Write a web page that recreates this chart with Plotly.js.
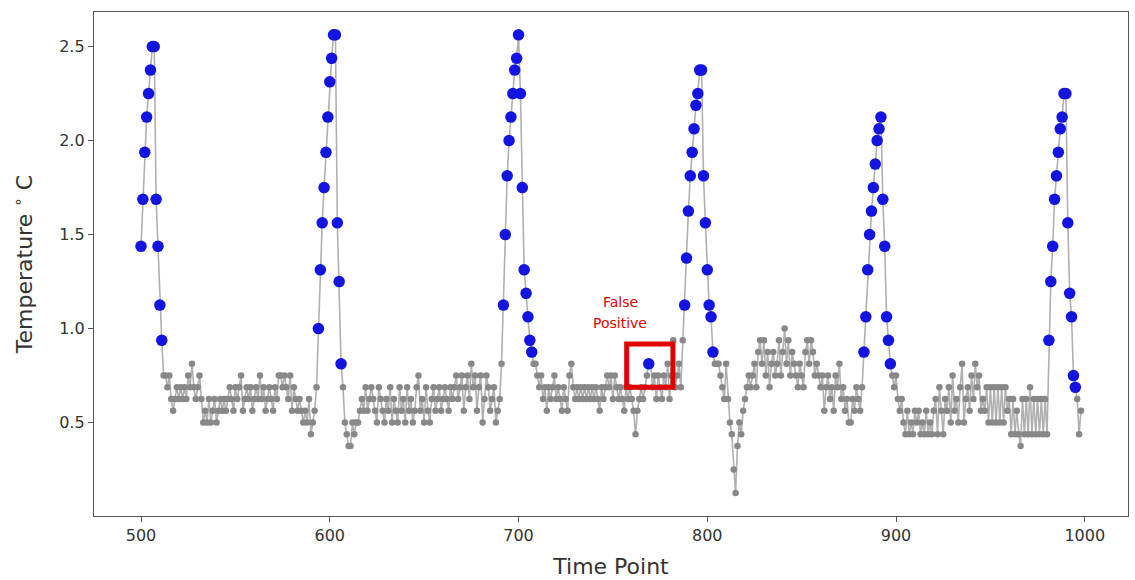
<!DOCTYPE html>
<html>
<head>
<meta charset="utf-8">
<script src="https://cdn.plot.ly/plotly-3.0.1.min.js"></script>
<style>html,body{margin:0;padding:0;background:#fff;}#chart{width:1135px;height:580px;}</style>
</head>
<body>
<div id="chart"></div>
<script>
// Temperature readings (°C), each segment starts at the given time point
const seg500 = [1.4375, 1.6875, 1.9375, 2.125, 2.25, 2.375, 2.5, 2.5, 1.6875, 1.4375, 1.125, 0.9375, 0.75];
const seg513 = [0.75, 0.6875, 0.75, 0.625, 0.5625, 0.625, 0.6875, 0.625, 0.6875, 0.625, 0.6875, 0.625,
  0.75, 0.6875, 0.8125, 0.6875, 0.625, 0.6875, 0.75, 0.625,
  0.5, 0.5625, 0.5, 0.625, 0.5, 0.5625, 0.625, 0.5, 0.5625, 0.625, 0.5625, 0.625, 0.5625,
  0.625, 0.6875, 0.625, 0.5625, 0.6875, 0.625, 0.6875,
  0.75, 0.5625, 0.625, 0.6875, 0.625, 0.6875, 0.5625, 0.625, 0.6875, 0.625, 0.75, 0.625, 0.6875, 0.5625, 0.625, 0.6875, 0.625, 0.5625, 0.6875, 0.625,
  0.75, 0.75, 0.6875, 0.75, 0.6875, 0.625, 0.75,
  0.5625, 0.6875, 0.625, 0.5625, 0.625, 0.5625, 0.5, 0.5625, 0.5, 0.625, 0.4375, 0.5, 0.5625, 0.6875];
const seg594 = [1.0, 1.3125, 1.5625, 1.75, 1.9375, 2.125, 2.3125, 2.4375, 2.5625, 2.5625, 1.5625, 1.25, 0.8125,
  0.6875, 0.5, 0.4375, 0.375, 0.375, 0.5, 0.4375, 0.5, 0.5];
const seg616 = [0.5625, 0.625, 0.5625, 0.6875, 0.5625, 0.625, 0.6875, 0.625, 0.5625, 0.5,
  0.6875, 0.625, 0.5625, 0.5, 0.625, 0.5625, 0.6875, 0.5, 0.625, 0.5625,
  0.5, 0.6875, 0.5625, 0.625, 0.5, 0.6875, 0.5625, 0.625, 0.5, 0.5625,
  0.6875, 0.75, 0.5625, 0.625, 0.5, 0.6875, 0.5625, 0.5, 0.625, 0.6875,
  0.5625, 0.625, 0.6875, 0.5625, 0.625, 0.6875, 0.625, 0.5625, 0.6875, 0.625,
  0.6875, 0.75, 0.625, 0.6875, 0.75, 0.5625, 0.6875, 0.75, 0.625, 0.8125,
  0.6875, 0.75, 0.5625, 0.6875, 0.75, 0.5, 0.625, 0.75, 0.6875, 0.5625,
  0.625, 0.6875, 0.5, 0.5625, 0.625, 0.8125];
const seg692 = [1.125, 1.5, 1.8125, 2.0, 2.125, 2.25, 2.375, 2.4375, 2.5625, 2.25, 1.75, 1.3125, 1.1875, 1.0625, 0.9375, 0.875];
const seg708 = [0.8125, 0.8125, 0.75, 0.6875, 0.75, 0.625, 0.6875, 0.5625, 0.6875, 0.625,
  0.6875, 0.75, 0.625, 0.6875, 0.625, 0.5625, 0.6875, 0.625, 0.5625, 0.75,
  0.8125, 0.6875, 0.625, 0.6875, 0.625, 0.6875, 0.625, 0.6875, 0.625, 0.6875,
  0.625, 0.6875, 0.625, 0.6875, 0.625, 0.5625, 0.6875, 0.625, 0.6875, 0.75,
  0.6875, 0.75, 0.625, 0.75, 0.6875, 0.625, 0.6875, 0.625, 0.5625, 0.6875,
  0.625, 0.6875, 0.625, 0.5625, 0.4375, 0.5625, 0.625, 0.6875, 0.625, 0.6875,
  0.75, 0.8125, 0.8125, 0.6875, 0.75, 0.625, 0.75, 0.6875, 0.625, 0.75,
  0.6875, 0.8125, 0.625, 0.75, 0.9375, 0.6875, 0.75, 0.8125, 0.6875, 0.9375];
const seg788 = [1.125, 1.375, 1.625, 1.8125, 1.9375, 2.0625, 2.1875, 2.25, 2.375, 2.375, 1.8125, 1.5625, 1.3125, 1.125, 1.0625, 0.875,
  0.8125, 0.8125, 0.8125, 0.75, 0.6875, 0.625, 0.8125, 0.625, 0.5, 0.4375, 0.25, 0.125, 0.375, 0.5, 0.4375, 0.5625, 0.625, 0.6875];
const seg822 = [0.75, 0.6875, 0.75, 0.8125, 0.6875, 0.875, 0.9375, 0.8125, 0.9375, 0.75,
  0.875, 0.6875, 0.8125, 0.875, 0.75, 0.8125, 0.9375, 0.75, 0.875, 1.0,
  0.8125, 0.9375, 0.75, 0.875, 0.8125, 0.75, 0.6875, 0.8125, 0.75, 0.6875,
  0.875, 0.9375, 0.8125, 0.9375, 0.875, 0.75, 0.8125, 0.75, 0.6875, 0.75,
  0.5625, 0.6875, 0.75, 0.625, 0.6875, 0.5625, 0.75, 0.6875, 0.8125, 0.625,
  0.6875, 0.5625, 0.625, 0.5, 0.5, 0.625, 0.5625, 0.6875, 0.625, 0.5625, 0.6875];
const seg883 = [0.875, 1.0625, 1.3125, 1.5, 1.625, 1.75, 1.875, 2.0, 2.0625, 2.125, 1.6875, 1.4375, 1.0625, 0.9375, 0.8125];
const seg898 = [0.75, 0.6875, 0.75, 0.625, 0.5625, 0.625, 0.5, 0.4375, 0.5625, 0.4375,
  0.5, 0.4375, 0.5625, 0.5, 0.5625, 0.4375, 0.5, 0.4375, 0.5625, 0.4375,
  0.5, 0.4375, 0.5625, 0.625, 0.4375, 0.6875, 0.5625, 0.4375, 0.625, 0.5625,
  0.6875, 0.5, 0.75, 0.5625, 0.625, 0.5, 0.6875, 0.8125, 0.5, 0.625,
  0.6875, 0.5625, 0.75, 0.625, 0.8125, 0.6875, 0.75, 0.5625, 0.625, 0.5625,
  0.6875, 0.5, 0.6875, 0.5, 0.6875, 0.5, 0.6875, 0.5, 0.6875, 0.5,
  0.6875, 0.5625, 0.625, 0.4375, 0.625, 0.4375, 0.5625, 0.4375, 0.375, 0.625,
  0.4375, 0.625, 0.4375, 0.6875, 0.4375, 0.625, 0.4375, 0.625, 0.4375, 0.625,
  0.4375, 0.625, 0.4375];
const seg981 = [0.9375, 1.25, 1.4375, 1.6875, 1.8125, 1.9375, 2.0625, 2.125, 2.25, 2.25, 1.5625, 1.1875, 1.0625, 0.75, 0.6875,
  0.625, 0.4375, 0.5625];

const segments = [[500, seg500], [513, seg513], [594, seg594], [616, seg616], [692, seg692],
  [708, seg708], [788, seg788], [822, seg822], [883, seg883], [898, seg898], [981, seg981]];

// Time points classified as anomalies (blue)
const detectedSpans = [[500, 511], [594, 606], [692, 707], [769, 769], [788, 803], [883, 897], [981, 995]];

const xTicks = [500, 600, 700, 800, 900, 1000];
const yTicks = [0.5, 1.0, 1.5, 2.0, 2.5];

const times = [], temps = [];
segments.forEach(([start, vals]) => vals.forEach((v, i) => { times.push(start + i); temps.push(v); }));

const bx = [], by = [];
times.forEach((t, i) => {
  if (detectedSpans.some(([a, b]) => t >= a && t <= b)) { bx.push(t); by.push(temps[i]); }
});

const font = 'DejaVu Sans, Arial, sans-serif';
const traces = [
  { x: times, y: temps, type: 'scatter', mode: 'lines+markers',
    line: { color: '#b0b0b0', width: 1.6 },
    marker: { color: '#888888', size: 6.5 }, hoverinfo: 'x+y' },
  { x: bx, y: by, type: 'scatter', mode: 'markers',
    marker: { color: '#1414e0', size: 11.5 }, hoverinfo: 'x+y' }
];

const layout = {
  width: 1135, height: 580,
  margin: { l: 94, r: 7, t: 12, b: 64 },
  paper_bgcolor: '#fff', plot_bgcolor: '#fff',
  showlegend: false,
  font: { family: font, color: '#333', size: 16 },
  xaxis: {
    range: [475.1, 1022.9], tickvals: xTicks, ticktext: xTicks.map(String),
    showgrid: false, zeroline: false, showline: true, mirror: true,
    linecolor: '#555', linewidth: 1.2, ticks: 'outside', ticklen: 5, tickcolor: '#555',
    tickfont: { size: 16, color: '#333' },
    title: { text: 'Time Point', font: { size: 22, color: '#333' }, standoff: 14 }
  },
  yaxis: {
    range: [0.003, 2.684], tickvals: yTicks, ticktext: yTicks.map(v => v.toFixed(1)),
    showgrid: false, zeroline: false, showline: true, mirror: true,
    linecolor: '#555', linewidth: 1.2, ticks: 'outside', ticklen: 5, tickcolor: '#555',
    tickfont: { size: 16, color: '#333' },
    title: { text: 'Temperature <sup>∘</sup> C', font: { size: 22, color: '#333' }, standoff: 20 }
  },
  shapes: [
    { type: 'rect', xref: 'x', yref: 'y', x0: 757.3, x1: 781.8, y0: 0.688, y1: 0.918,
      line: { color: '#e00000', width: 5 }, fillcolor: 'rgba(0,0,0,0)' }
  ],
  annotations: [
    { x: 753.8, y: 1.140, xref: 'x', yref: 'y', text: 'False', showarrow: false,
      font: { family: font, size: 14, color: '#e00000' } },
    { x: 753.8, y: 1.029, xref: 'x', yref: 'y', text: 'Positive', showarrow: false,
      font: { family: font, size: 14, color: '#e00000' } }
  ]
};

Plotly.newPlot('chart', traces, layout, { displayModeBar: false, staticPlot: true });
</script>
</body>
</html>
